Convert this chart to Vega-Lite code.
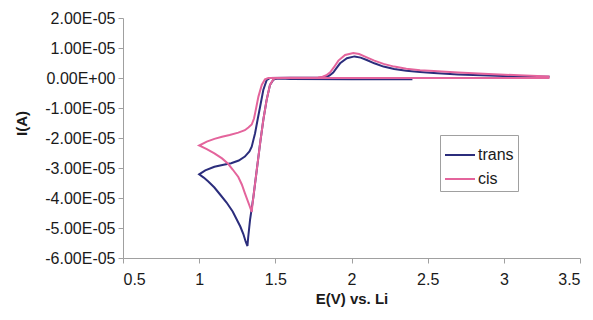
{
  "$schema": "https://vega.github.io/schema/vega-lite/v6.json",
  "width": 457,
  "height": 240,
  "autosize": {"type": "none"},
  "padding": {"left": 123, "top": 18, "right": 13, "bottom": 62},
  "background": "white",
  "config": {
    "view": {"stroke": null},
    "font": "Liberation Sans",
    "axis": {"grid": false, "domainColor": "#a0a0a0", "tickColor": "#a0a0a0", "labelColor": "#1a1a1a", "titleColor": "#1a1a1a", "labelFont": "Liberation Sans", "titleFont": "Liberation Sans"}
  },
  "data": {"values": [
    {"s":"trans","i":1,"E":2.40,"I":-0.04e-5},{"s":"trans","i":2,"E":2.00,"I":-0.04e-5},{"s":"trans","i":3,"E":1.60,"I":-0.03e-5},{"s":"trans","i":4,"E":1.53,"I":-0.02e-5},{"s":"trans","i":5,"E":1.50,"I":-0.03e-5},{"s":"trans","i":6,"E":1.487,"I":-0.06e-5},{"s":"trans","i":7,"E":1.465,"I":-0.23e-5},{"s":"trans","i":8,"E":1.443,"I":-0.73e-5},{"s":"trans","i":9,"E":1.421,"I":-1.40e-5},{"s":"trans","i":10,"E":1.400,"I":-2.18e-5},{"s":"trans","i":11,"E":1.378,"I":-3.07e-5},{"s":"trans","i":12,"E":1.356,"I":-3.96e-5},{"s":"trans","i":13,"E":1.334,"I":-4.73e-5},{"s":"trans","i":14,"E":1.322,"I":-5.30e-5},{"s":"trans","i":15,"E":1.317,"I":-5.60e-5},{"s":"trans","i":16,"E":1.305,"I":-5.45e-5},{"s":"trans","i":17,"E":1.29,"I":-5.20e-5},{"s":"trans","i":18,"E":1.27,"I":-4.95e-5},{"s":"trans","i":19,"E":1.25,"I":-4.75e-5},{"s":"trans","i":20,"E":1.22,"I":-4.45e-5},{"s":"trans","i":21,"E":1.18,"I":-4.15e-5},{"s":"trans","i":22,"E":1.14,"I":-3.90e-5},{"s":"trans","i":23,"E":1.10,"I":-3.65e-5},{"s":"trans","i":24,"E":1.06,"I":-3.45e-5},{"s":"trans","i":25,"E":1.03,"I":-3.32e-5},{"s":"trans","i":26,"E":1.00,"I":-3.21e-5},{"s":"trans","i":27,"E":1.04,"I":-3.08e-5},{"s":"trans","i":28,"E":1.10,"I":-2.96e-5},{"s":"trans","i":29,"E":1.16,"I":-2.89e-5},{"s":"trans","i":30,"E":1.21,"I":-2.84e-5},{"s":"trans","i":31,"E":1.26,"I":-2.75e-5},{"s":"trans","i":32,"E":1.30,"I":-2.62e-5},{"s":"trans","i":33,"E":1.33,"I":-2.45e-5},{"s":"trans","i":34,"E":1.345,"I":-2.29e-5},{"s":"trans","i":35,"E":1.367,"I":-1.84e-5},{"s":"trans","i":36,"E":1.385,"I":-1.35e-5},{"s":"trans","i":37,"E":1.40,"I":-0.96e-5},{"s":"trans","i":38,"E":1.421,"I":-0.40e-5},{"s":"trans","i":39,"E":1.443,"I":-0.07e-5},{"s":"trans","i":40,"E":1.465,"I":0.0},{"s":"trans","i":41,"E":1.60,"I":0.01e-5},{"s":"trans","i":42,"E":1.80,"I":0.02e-5},{"s":"trans","i":43,"E":1.83,"I":0.04e-5},{"s":"trans","i":44,"E":1.855,"I":0.08e-5},{"s":"trans","i":45,"E":1.88,"I":0.18e-5},{"s":"trans","i":46,"E":1.90,"I":0.32e-5},{"s":"trans","i":47,"E":1.925,"I":0.49e-5},{"s":"trans","i":48,"E":1.97,"I":0.66e-5},{"s":"trans","i":49,"E":2.02,"I":0.72e-5},{"s":"trans","i":50,"E":2.06,"I":0.68e-5},{"s":"trans","i":51,"E":2.10,"I":0.60e-5},{"s":"trans","i":52,"E":2.15,"I":0.49e-5},{"s":"trans","i":53,"E":2.21,"I":0.38e-5},{"s":"trans","i":54,"E":2.28,"I":0.30e-5},{"s":"trans","i":55,"E":2.36,"I":0.24e-5},{"s":"trans","i":56,"E":2.45,"I":0.20e-5},{"s":"trans","i":57,"E":2.54,"I":0.17e-5},{"s":"trans","i":58,"E":2.70,"I":0.12e-5},{"s":"trans","i":59,"E":2.90,"I":0.08e-5},{"s":"trans","i":60,"E":3.10,"I":0.05e-5},{"s":"trans","i":61,"E":3.30,"I":0.04e-5},
    {"s":"cis","i":1,"E":3.30,"I":0.0},{"s":"cis","i":2,"E":2.50,"I":0.0},{"s":"cis","i":3,"E":1.80,"I":0.0},{"s":"cis","i":4,"E":1.55,"I":0.0},{"s":"cis","i":5,"E":1.50,"I":-0.01e-5},{"s":"cis","i":6,"E":1.487,"I":-0.04e-5},{"s":"cis","i":7,"E":1.465,"I":-0.23e-5},{"s":"cis","i":8,"E":1.443,"I":-0.73e-5},{"s":"cis","i":9,"E":1.421,"I":-1.40e-5},{"s":"cis","i":10,"E":1.400,"I":-2.18e-5},{"s":"cis","i":11,"E":1.378,"I":-3.07e-5},{"s":"cis","i":12,"E":1.360,"I":-3.80e-5},{"s":"cis","i":13,"E":1.350,"I":-4.20e-5},{"s":"cis","i":14,"E":1.345,"I":-4.46e-5},{"s":"cis","i":15,"E":1.33,"I":-4.25e-5},{"s":"cis","i":16,"E":1.30,"I":-3.84e-5},{"s":"cis","i":17,"E":1.28,"I":-3.55e-5},{"s":"cis","i":18,"E":1.257,"I":-3.30e-5},{"s":"cis","i":19,"E":1.22,"I":-3.05e-5},{"s":"cis","i":20,"E":1.19,"I":-2.86e-5},{"s":"cis","i":21,"E":1.15,"I":-2.68e-5},{"s":"cis","i":22,"E":1.10,"I":-2.51e-5},{"s":"cis","i":23,"E":1.05,"I":-2.37e-5},{"s":"cis","i":24,"E":1.00,"I":-2.25e-5},{"s":"cis","i":25,"E":1.05,"I":-2.12e-5},{"s":"cis","i":26,"E":1.10,"I":-2.03e-5},{"s":"cis","i":27,"E":1.15,"I":-1.96e-5},{"s":"cis","i":28,"E":1.20,"I":-1.90e-5},{"s":"cis","i":29,"E":1.257,"I":-1.82e-5},{"s":"cis","i":30,"E":1.30,"I":-1.74e-5},{"s":"cis","i":31,"E":1.323,"I":-1.65e-5},{"s":"cis","i":32,"E":1.345,"I":-1.55e-5},{"s":"cis","i":33,"E":1.36,"I":-1.35e-5},{"s":"cis","i":34,"E":1.367,"I":-1.18e-5},{"s":"cis","i":35,"E":1.378,"I":-0.90e-5},{"s":"cis","i":36,"E":1.389,"I":-0.62e-5},{"s":"cis","i":37,"E":1.411,"I":-0.23e-5},{"s":"cis","i":38,"E":1.432,"I":-0.04e-5},{"s":"cis","i":39,"E":1.454,"I":0.0},{"s":"cis","i":40,"E":1.60,"I":0.01e-5},{"s":"cis","i":41,"E":1.78,"I":0.02e-5},{"s":"cis","i":42,"E":1.81,"I":0.04e-5},{"s":"cis","i":43,"E":1.835,"I":0.09e-5},{"s":"cis","i":44,"E":1.86,"I":0.19e-5},{"s":"cis","i":45,"E":1.885,"I":0.36e-5},{"s":"cis","i":46,"E":1.914,"I":0.58e-5},{"s":"cis","i":47,"E":1.958,"I":0.77e-5},{"s":"cis","i":48,"E":2.012,"I":0.83e-5},{"s":"cis","i":49,"E":2.05,"I":0.80e-5},{"s":"cis","i":50,"E":2.10,"I":0.69e-5},{"s":"cis","i":51,"E":2.15,"I":0.58e-5},{"s":"cis","i":52,"E":2.21,"I":0.47e-5},{"s":"cis","i":53,"E":2.28,"I":0.38e-5},{"s":"cis","i":54,"E":2.36,"I":0.31e-5},{"s":"cis","i":55,"E":2.45,"I":0.26e-5},{"s":"cis","i":56,"E":2.54,"I":0.23e-5},{"s":"cis","i":57,"E":2.70,"I":0.18e-5},{"s":"cis","i":58,"E":2.90,"I":0.13e-5},{"s":"cis","i":59,"E":3.10,"I":0.09e-5},{"s":"cis","i":60,"E":3.30,"I":0.05e-5}
  ]},
  "mark": {"type": "line", "strokeWidth": 2},
  "encoding": {
    "x": {
      "field": "E", "type": "quantitative",
      "scale": {"domain": [0.5, 3.5], "nice": false, "zero": false},
      "axis": {
        "values": [0.5, 1, 1.5, 2, 2.5, 3, 3.5],
        "format": "~g",
        "title": "E(V) vs. Li",
        "labelFontSize": 16,
        "labelPadding": 8,
        "tickSize": 5,
        "titleFontSize": 15,
        "titleFontWeight": "bold",
        "titleBaseline": "middle",
        "titleY": 40
      }
    },
    "y": {
      "field": "I", "type": "quantitative",
      "scale": {"domain": [-6e-5, 2e-5], "nice": false, "zero": false},
      "axis": {
        "values": [-6e-5, -5e-5, -4e-5, -3e-5, -2e-5, -1e-5, 0, 1e-5, 2e-5],
        "labelExpr": "datum.value == 0 ? '0.00E+00' : (datum.value < 0 ? '-' : '') + format(abs(datum.value) * 1e5, '.2f') + 'E-05'",
        "title": "I(A)",
        "labelFontSize": 16,
        "labelPadding": 3,
        "tickSize": 5,
        "titleFontSize": 15,
        "titleFontWeight": "bold",
        "titleBaseline": "middle",
        "titleX": -102,
        "titleY": 105
      }
    },
    "order": {"field": "i"},
    "color": {
      "field": "s", "type": "nominal",
      "scale": {"domain": ["trans", "cis"], "range": ["#2b2d7c", "#e4649c"]},
      "legend": {
        "title": null,
        "orient": "none",
        "legendX": 317,
        "legendY": 117,
        "strokeColor": "#a0a0a0",
        "fillColor": "white",
        "padding": 4,
        "symbolType": "stroke",
        "symbolSize": 900,
        "symbolStrokeWidth": 2,
        "labelFontSize": 16,
        "labelColor": "#1a1a1a",
        "labelOffset": 2,
        "rowPadding": 0
      }
    }
  }
}
